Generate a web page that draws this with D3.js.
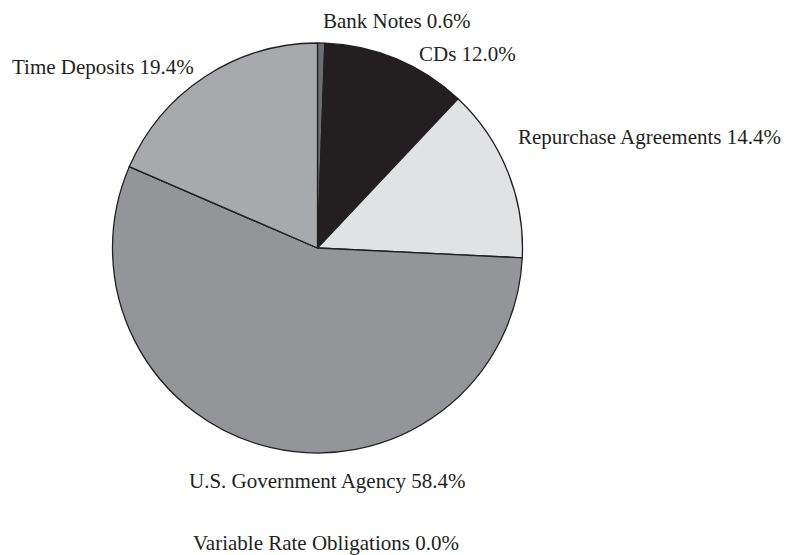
<!DOCTYPE html>
<html>
<head>
<meta charset="utf-8">
<script src="https://cdn.jsdelivr.net/npm/d3@7"></script>
<style>
  html, body { margin: 0; padding: 0; background: #ffffff; }
  svg { display: block; }
  text { font-family: "Liberation Serif", "Times New Roman", serif; font-size: 21px; fill: #231f20; }
</style>
</head>
<body>
<svg id="chart" width="791" height="555"></svg>
<script>
// ---- data ----
const categories = ["Bank Notes", "CDs", "Repurchase Agreements", "U.S. Government Agency", "Variable Rate Obligations", "Time Deposits"];
const values = [0.6, 12.0, 14.4, 58.4, 0.0, 19.4];
const valueLabels = ["0.6%", "12.0%", "14.4%", "58.4%", "0.0%", "19.4%"];

// ---- layout / style (not data) ----
const W = 791, H = 555;
const cx = 317.5, cy = 248, R = 205;
const colors = ["#6d6e71", "#231f20", "#e1e2e3", "#939598", "#ffffff", "#a7a9ac"];
// label anchor positions (start-anchored text, baseline y)
const labelPos = [
  [323, 28], [419, 61], [518, 144], [189, 488], [193, 550], [12, 74]
];

const svg = d3.select("#chart");
const g = svg.append("g").attr("transform", `translate(${cx},${cy})`);

const rows = categories.map((c, i) => ({ cat: c, value: values[i], label: valueLabels[i], i }));
const pie = d3.pie().sort(null).value(d => d.value).startAngle(0).endAngle(2 * Math.PI);
const arc = d3.arc().innerRadius(0).outerRadius(R);

g.selectAll("path.slice")
  .data(pie(rows))
  .join("path")
  .attr("class", "slice")
  .attr("d", arc)
  .attr("fill", d => colors[d.data.i])
  .attr("stroke", "#231f20")
  .attr("stroke-width", 1.3)
  .attr("stroke-linejoin", "round");

svg.selectAll("text.lbl")
  .data(rows)
  .join("text")
  .attr("class", "lbl")
  .attr("x", d => labelPos[d.i][0])
  .attr("y", d => labelPos[d.i][1])
  .attr("text-anchor", "start")
  .text(d => `${d.cat} ${d.label}`);
</script>
</body>
</html>
